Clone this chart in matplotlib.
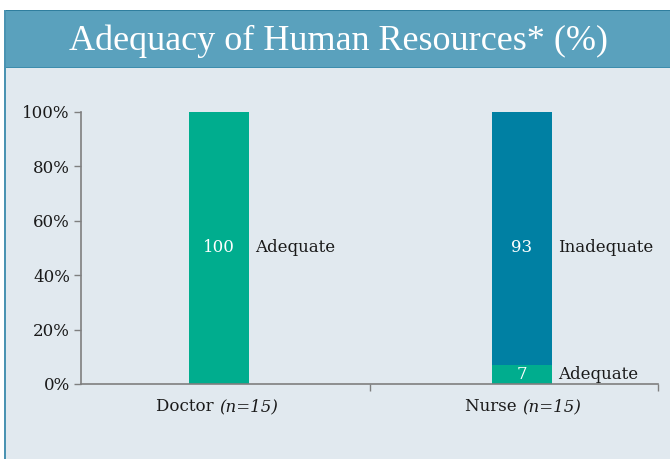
import matplotlib
matplotlib.use("Agg")
import matplotlib.pyplot as plt
from matplotlib.patches import Rectangle

# Data
categories = ["Doctor", "Nurse"]
sample_sizes = [15, 15]
adequate = [100, 7]
inadequate = [0, 93]
yticks = [0, 20, 40, 60, 80, 100]

GREEN = "#00AD8E"
BLUE = "#0080A3"
HEADER = "#5AA1BD"
BG = "#E1E9EF"
TITLE_FONT = ["Liberation Serif", "DejaVu Serif"]
BODY_FONT = ["DejaVu Serif"]

fig = plt.figure(figsize=(6.7, 4.59), dpi=100)
fig.patch.set_facecolor("white")
W, H = 670, 459

def fx(px):
    return px / W

def fy(py):
    return 1 - py / H

# Slide panel: body, header band and left rule
fig.add_artist(Rectangle((fx(4), 0), 1 - fx(4), fy(68), transform=fig.transFigure,
                         facecolor=BG, edgecolor="none", zorder=0))
fig.add_artist(Rectangle((fx(4), fy(68)), 1 - fx(4), fy(11) - fy(68), transform=fig.transFigure,
                         facecolor=HEADER, edgecolor="none", zorder=0))
fig.add_artist(Rectangle((fx(4), fy(11)), 1 - fx(4), fy(9.5) - fy(11), transform=fig.transFigure,
                         facecolor="#2F7E9E", edgecolor="none", zorder=1))
fig.add_artist(Rectangle((fx(4), fy(68)), 1 - fx(4), fy(67) - fy(68), transform=fig.transFigure,
                         facecolor="#3D8DAD", edgecolor="none", zorder=1))
fig.add_artist(Rectangle((fx(4), 0), fx(1.5), fy(9.5), transform=fig.transFigure,
                         facecolor="#4A93B2", edgecolor="none", zorder=1))

fig.text(fx(339), fy(41), "Adequacy of Human Resources* (%)", ha="center", va="center",
         color="white", fontsize=26, family=TITLE_FONT)

# Axes
ax = fig.add_axes([fx(81), fy(384), fx(658) - fx(81), fy(112) - fy(384)])
ax.set_facecolor("none")
x = list(range(len(categories)))
width = 0.198
ax.bar(x, adequate, width=width, color=GREEN, zorder=2)
ax.bar(x, inadequate, width=width, bottom=adequate, color=BLUE, zorder=2)

ax.set_xlim(-0.455, 1.449)
ax.set_ylim(0, 100)
ax.set_yticks(yticks)
ax.set_yticklabels([f"{v}%" for v in yticks], family=BODY_FONT, fontsize=12, color="#1a1a1a")
ax.set_xticks([0.5, 1.449])
ax.set_xticklabels([])
ax.tick_params(axis="y", length=5, width=1, color="#7f7f7f", pad=3)
ax.tick_params(axis="x", length=5, width=1, color="#7f7f7f", direction="out")
for s in ("top", "right"):
    ax.spines[s].set_visible(False)
for s in ("left", "bottom"):
    ax.spines[s].set_color("#7f7f7f")
    ax.spines[s].set_linewidth(1.2)

# Category labels with italic sample sizes
for xi, (cat, n) in enumerate(zip(categories, sample_sizes)):
    ax.annotate(cat + " ", xy=(xi, 0), xytext=(0, -10), textcoords="offset points",
                ha="right", va="top", family=BODY_FONT, fontsize=12, color="#1a1a1a",
                annotation_clip=False)
    ax.annotate(f"(n={n})", xy=(xi, 0), xytext=(0, -10), textcoords="offset points",
                ha="left", va="top", family=BODY_FONT, fontsize=12, style="italic",
                color="#1a1a1a", annotation_clip=False)

# Value labels inside bars and segment names beside them
for xi in x:
    segs = [(adequate[xi], 0, "Adequate"), (inadequate[xi], adequate[xi], "Inadequate")]
    for val, base, name in segs:
        if val <= 0:
            continue
        ylab = (base + val) / 2
        ax.text(xi, ylab, f"{val}", ha="center", va="center", color="white",
                family=BODY_FONT, fontsize=12, zorder=3)
        ax.text(xi + width / 2 + 0.02, ylab, name, ha="left", va="center",
                color="#1a1a1a", family=BODY_FONT, fontsize=12, zorder=3)

fig.savefig("out.png", dpi=100, facecolor=fig.get_facecolor())
